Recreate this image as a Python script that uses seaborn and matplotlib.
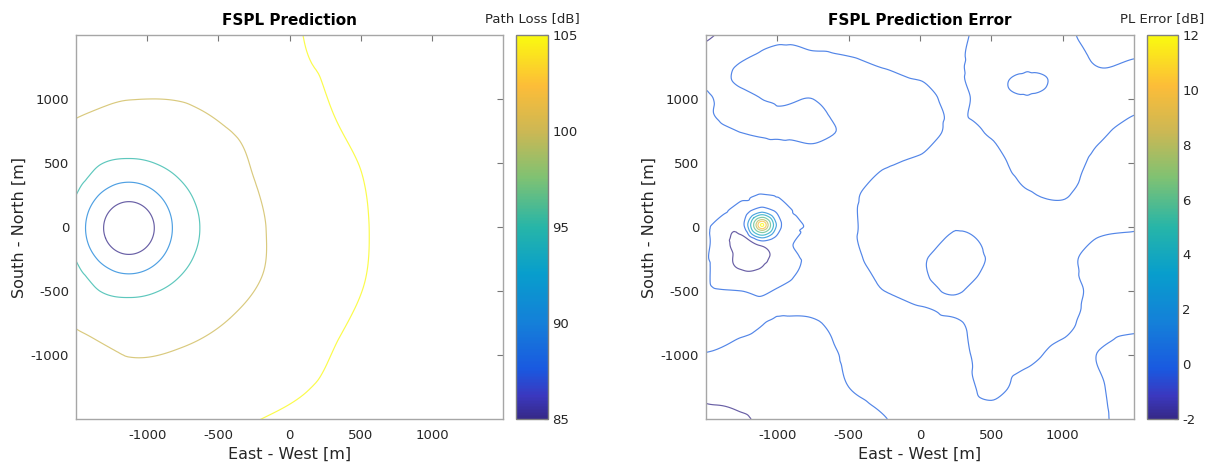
import numpy as np
import matplotlib
matplotlib.use("Agg")
import matplotlib.pyplot as plt
import matplotlib.tri as mtri
from matplotlib.colors import LinearSegmentedColormap, Normalize
from matplotlib.cm import ScalarMappable
import seaborn as sns

sns.set_theme(style="white")
plt.rcParams['font.family'] = ['DejaVu Sans']
plt.rcParams['axes.unicode_minus'] = False

# ---------------- data ----------------
# Left: FSPL prediction sampled on elliptical rings around the transmitter
tx_x_m, tx_y_m = -1128.0, -8.0
angles16_deg = [0, 22.5, 45, 67.5, 90, 112.5, 135, 157.5,
                180, 202.5, 225, 247.5, 270, 292.5, 315, 337.5]
angles24_deg = [0, 15, 30, 45, 60, 75, 90, 105, 120, 135, 150, 165,
                180, 195, 210, 225, 240, 255, 270, 285, 300, 315, 330, 345]
inner_rx_m = [50, 110, 178, 305, 498, 740, 1000]
inner_ry_m = [58, 128, 206, 358, 543, 790, 1000]
pl_center_db = 65.0
pl_ring_50_db = [74.3] * 16
pl_ring_110_db = [81.1] * 16
pl_ring_178_db = [85.0] * 16
pl_ring_305_db = [90.0] * 16
pl_ring_498_db = [95.0, 95.0, 95.0, 95.0, 95.0, 95.0, 96.0, 96.8,
                  96.8, 96.8, 96.0, 95.0, 95.0, 95.0, 95.0, 95.0]
pl_ring_740_db = [97.7] * 16
pl_ring_1000_db = [100.33, 100.39, 99.63, 99.47, 100.0, 100.79, 101.0, 101.0,
                   101.0, 101.0, 101.2, 102.7, 99.93, 99.96, 100.0, 99.93]
outer_r_m = [1350, 1720, 2300, 3200]
pl_ring_1350_db = [102.9] * 24
pl_ring_1720_db = [105.17, 105.15, 105.20, 104.51, 103.4, 104.0, 105.0, 105.0,
                   105.0, 105.0, 105.0, 105.0, 105.0, 105.0, 105.0, 105.0,
                   105.0, 105.0, 105.0, 104.86, 104.82, 104.67, 105.06, 105.05]
pl_ring_2300_db = [107.5, 107.5, 107.5, 107.5, 103.7, 104.6, 107.5, 107.5,
                   107.5, 107.5, 107.5, 107.5, 107.5, 107.5, 107.5, 107.5,
                   107.5, 107.5, 107.5, 107.5, 107.5, 107.5, 107.5, 107.5]
pl_ring_3200_db = [110.4] * 24
pl_levels_db = [85, 90, 95, 100, 105]

# Right: prediction error on a 250 m grid (rows north->south, cols west->east)
grid_x_m = [-1500, -1250, -1000, -750, -500, -250, 0, 250, 500, 750, 1000, 1250, 1500]
grid_y_m = [1500, 1250, 1000, 750, 500, 250, 0, -250, -500, -750, -1000, -1250, -1500]
err_grid_db = [
    [-2.4, -0.9, -0.25, -0.4, -0.5, -0.75, -1.0, -0.3, 0.45, 0.6, 0.35, -0.7, -0.6],
    [-0.6, 0.1, 0.45, 0.3, 0.2, -0.03, -0.3, -0.15, 0.5, 0.13, 0.3, 0.0, 0.15],
    [0.12, -0.15, 0.1, 0.0, 0.4, 0.6, 0.4, -0.25, 0.4, 0.1, 0.6, 0.6, 0.3],
    [0.35, -0.03, -0.18, -0.35, 0.17, 0.7, 0.5, -0.2, 0.08, 0.35, 0.7, 0.2, -0.4],
    [0.5, 0.6, 0.6, 0.6, 0.45, 0.1, -0.18, -0.4, -0.33, 0.4, 0.45, -0.25, -0.7],
    [0.5, 0.3, 0.05, 0.6, 0.2, -0.5, -0.8, -0.8, -0.65, -0.1, 0.1, -0.6, -0.8],
    [0.3, 0.0, 0.0, 0.4, 0.15, -0.5, -0.8, -0.07, -0.3, -0.7, -0.6, -0.2, -0.1],
    [0.15, -2.5, -1.3, 0.26, 0.28, -0.45, -0.16, 0.7, -0.13, -0.7, -0.3, 0.4, 0.6],
    [0.35, 0.0, 0.08, 0.45, 0.45, 0.0, -0.22, 0.09, -0.6, -0.8, -0.55, 0.35, 0.7],
    [0.6, 0.27, -0.1, -0.08, 0.3, 0.7, 0.35, 0.12, -0.5, -0.8, -0.3, 0.4, 0.33],
    [-0.07, -0.45, -0.7, -0.5, 0.17, 0.6, 0.8, 0.33, -0.4, -0.25, 0.3, -0.03, -0.7],
    [-1.5, -1.1, -0.9, -0.6, 0.0, 0.4, 0.8, 0.45, -0.22, 0.33, 0.6, 0.14, -0.8],
    [-2.4, -2.2, -1.2, -0.8, -0.5, -0.05, 0.6, 0.6, 0.38, 0.6, 0.7, 0.27, -0.8],
]
# error peak next to the transmitter
hot_x_m, hot_y_m = -1107.0, 16.0
hot_center_db = 12.6
hot_ring_r_m = [25, 50, 80, 110]
hot_ring_db = [10.5, 7.0, 4.0, 1.2]
hot_edge_r_m = 150
hot_edge_db = [-0.3, -0.2, -0.2, -0.3, -1.2, -2.0, -1.6, -0.6]   # 0, 45, ... 315 deg
# local samples of the negative basin west of the peak
basin_x_m = [-1200, -1300, -1130, -1330, -1250, -1000, -1400, -1150, -950,
             -1380, -800, -860, -1150, -1100, -1480, -1480]
basin_y_m = [-200, -120, -280, -300, -380, -330, -150, -450, -200,
             120, -250, 120, 300, -620, -120, -300]
basin_err_db = [-3.0, -2.4, -2.4, -1.8, -1.6, -0.8, -0.8, -0.6, -0.4,
                0.15, 0.12, 0.15, 0.3, 0.2, 0.1, 0.1]
# local samples of the north-west tongue, the north-east pocket and the
# gap south of the central loop
extra_x_m = [-1420, -1490, -1300, -1100, -850, 757, 650, 860, 250]
extra_y_m = [1080, 880, 900, 850, 800, 1117, 1117, 1117, -630]
extra_err_db = [-0.12, 0.12, -0.3, -0.35, -0.35, -0.35, -0.1, -0.1, -0.25]
err_levels_db = [-2, 0, 2, 4, 6, 8, 10, 12]

# ---------------- colour map (parula-like) ----------------
parula_pts = [(0.00, (0.21, 0.16, 0.53)), (0.06, (0.23, 0.22, 0.75)),
              (0.13, (0.10, 0.35, 0.88)), (0.25, (0.08, 0.50, 0.85)),
              (0.38, (0.03, 0.62, 0.80)), (0.50, (0.15, 0.71, 0.66)),
              (0.63, (0.50, 0.76, 0.45)), (0.75, (0.80, 0.72, 0.33)),
              (0.87, (0.99, 0.74, 0.22)), (1.00, (0.98, 0.98, 0.06))]
parula = LinearSegmentedColormap.from_list("parula", parula_pts)

# ---------------- build sample sets ----------------
lx, ly, lz = [tx_x_m], [tx_y_m], [pl_center_db]
a16 = np.deg2rad(angles16_deg)
a24 = np.deg2rad(angles24_deg)
inner_vals = [pl_ring_50_db, pl_ring_110_db, pl_ring_178_db, pl_ring_305_db,
              pl_ring_498_db, pl_ring_740_db, pl_ring_1000_db]
for rx_, ry_, vals in zip(inner_rx_m, inner_ry_m, inner_vals):
    lx += list(tx_x_m + rx_ * np.cos(a16))
    ly += list(tx_y_m + ry_ * np.sin(a16))
    lz += list(vals)
for r, vals in zip(outer_r_m, [pl_ring_1350_db, pl_ring_1720_db,
                               pl_ring_2300_db, pl_ring_3200_db]):
    lx += list(tx_x_m + r * np.cos(a24))
    ly += list(tx_y_m + r * np.sin(a24))
    lz += list(vals)

gx, gy = np.meshgrid(grid_x_m, grid_y_m)
rx, ry, rz = [], [], []
for x, y, v in zip(gx.ravel(), gy.ravel(), np.array(err_grid_db).ravel()):
    if (x - hot_x_m) ** 2 + (y - hot_y_m) ** 2 > 200 ** 2:
        rx.append(x); ry.append(y); rz.append(v)
rx.append(hot_x_m); ry.append(hot_y_m); rz.append(hot_center_db)
hang = np.deg2rad(np.arange(0, 360, 45))
for r, v in zip(hot_ring_r_m, hot_ring_db):
    rx += list(hot_x_m + r * np.cos(hang))
    ry += list(hot_y_m + r * np.sin(hang))
    rz += [v] * len(hang)
rx += list(hot_x_m + hot_edge_r_m * np.cos(hang))
ry += list(hot_y_m + hot_edge_r_m * np.sin(hang))
rz += hot_edge_db
rx += basin_x_m + extra_x_m
ry += basin_y_m + extra_y_m
rz += basin_err_db + extra_err_db


def smooth_contour(ax, x, y, z, levels, norm, subdiv=4):
    tri = mtri.Triangulation(np.asarray(x, float), np.asarray(y, float))
    z = np.asarray(z, float)
    interp = mtri.CubicTriInterpolator(tri, z, kind="geom")
    tri_r, z_r = mtri.UniformTriRefiner(tri).refine_field(z, interp, subdiv=subdiv)
    return ax.tricontour(tri_r, z_r, levels=levels, cmap=parula, norm=norm,
                         linewidths=0.85, alpha=0.75)


# ---------------- figure ----------------
fig = plt.figure(figsize=(12.16, 4.68), dpi=100)
axL = fig.add_axes([0.0625, 0.1047, 0.3512, 0.8205])
caxL = fig.add_axes([0.4243, 0.1047, 0.0263, 0.8205])
axR = fig.add_axes([0.5806, 0.1047, 0.3520, 0.8205])
caxR = fig.add_axes([0.9433, 0.1047, 0.0255, 0.8205])

normL = Normalize(85, 105)
normR = Normalize(-2, 12)
smooth_contour(axL, lx, ly, lz, pl_levels_db, normL)
smooth_contour(axR, rx, ry, rz, err_levels_db, normR)

frame_col = "#a6a6a6"
text_col = "#262626"
for ax, title in [(axL, "FSPL Prediction"), (axR, "FSPL Prediction Error")]:
    ax.set_xlim(-1500, 1500)
    ax.set_ylim(-1500, 1500)
    ax.set_xticks([-1000, -500, 0, 500, 1000])
    ax.set_yticks([-1000, -500, 0, 500, 1000])
    ax.tick_params(direction="in", top=True, right=True, length=4, width=0.8,
                   color="#777777", labelcolor=text_col, labelsize=9.5)
    ax.tick_params(axis="x", pad=7)
    ax.tick_params(axis="y", pad=5)
    for s in ax.spines.values():
        s.set_color(frame_col)
        s.set_linewidth(1.0)
    ax.set_facecolor("white")
    ax.set_title(title, fontsize=11, fontweight="bold", color="black", pad=7)
    ax.set_xlabel("East - West [m]", fontsize=11.5, color=text_col, labelpad=4)
    ax.set_ylabel("South - North [m]", fontsize=11.5, color=text_col, labelpad=3)

for cax, norm, ticks, label in [(caxL, normL, [85, 90, 95, 100, 105], "Path Loss [dB]"),
                                (caxR, normR, [-2, 0, 2, 4, 6, 8, 10, 12], "PL Error [dB]")]:
    cb = fig.colorbar(ScalarMappable(norm=norm, cmap=parula), cax=cax)
    cb.set_ticks(ticks)
    cb.outline.set_edgecolor("#808080")
    cb.outline.set_linewidth(1.0)
    cax.tick_params(direction="in", length=3, width=0.8, color="#333333",
                    labelcolor=text_col, labelsize=9.5, pad=3)
    cax.set_title(label, fontsize=9.5, color=text_col, pad=9)

fig.savefig("out.png", dpi=100, facecolor="white")
